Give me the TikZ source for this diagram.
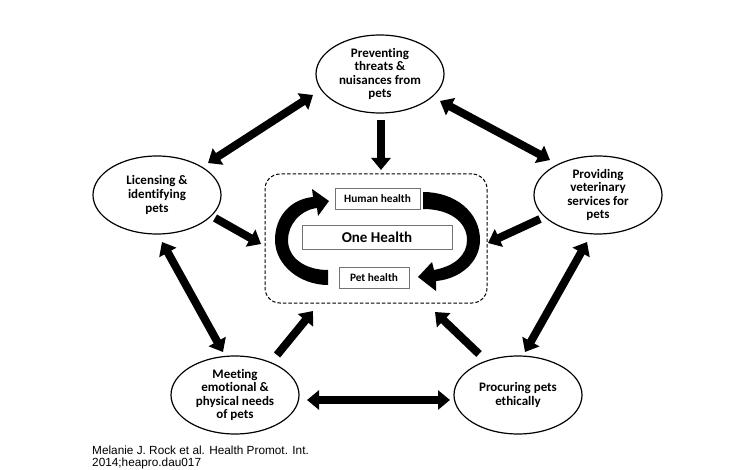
\documentclass[tikz,border=0pt]{standalone}
\usepackage{fontspec}
\setmainfont[Ligatures=NoCommon]{Carlito}
\newfontfamily\capfont{Liberation Sans}
\usetikzlibrary{arrows.meta,shapes.geometric}
\tikzset{
  ell/.style={draw, ellipse, line width=1.2pt, minimum width=128pt, minimum height=78pt, inner sep=0pt, align=center,
    font=\fontsize{13}{13.6}\selectfont\bfseries},
  hbox/.style={draw=black!55, line width=0.8pt, inner sep=0pt, font=\fontsize{11.3}{13}\selectfont\bfseries},
  onearrow/.style={line width=8pt, -{Triangle[length=12pt,width=19pt]}},
  twoarrow/.style={line width=8pt, {Triangle[length=12pt,width=19pt]}-{Triangle[length=12pt,width=19pt]}},
}
\begin{document}
\begin{tikzpicture}[x=1pt,y=-1pt]
\useasboundingbox (0,0) rectangle (754,470);
% ellipses
\node[ell] (top) at (380,74) {Preventing\\threats \&\\nuisances from\\pets};
\node[ell] (lic) at (157,195) {Licensing \&\\identifying\\pets};
\node[ell] (vet) at (598,195) {Providing\\veterinary\\services for\\pets};
\node[ell] (meet) at (235,395) {Meeting\\emotional \&\\physical needs\\of pets};
\node[ell] (proc) at (518,395) {Procuring pets\\ethically};
% central box
\node[draw, dashed, dash pattern=on 3.5pt off 2pt, line width=1pt, rounded corners=15pt,
  minimum width=222pt, minimum height=129pt, inner sep=0pt] (oh) at (376,238.5) {};
\node[hbox, minimum width=85pt, minimum height=21pt] (hh) at (377.5,198.5) {Human health};
\node[hbox, minimum width=150pt, minimum height=24pt, font=\fontsize{15}{16}\selectfont\bfseries] (one) at (377,237) {One Health};
\node[hbox, minimum width=70pt, minimum height=21pt] (ph) at (374,277.5) {Pet health};
% circular arrows
\fill (328,285) .. controls (300,285) and (275,265) .. (275,240)
  .. controls (275,215) and (292,199) .. (313,197)
  -- (312,189) -- (329,201) -- (318,216) -- (317,208)
  .. controls (300,210) and (288,225) .. (288,240)
  .. controls (288,258) and (305,270) .. (328,270) -- cycle;
\fill (423,192) .. controls (455,192) and (480,212) .. (480,240)
  .. controls (480,262) and (460,279) .. (436,281)
  -- (436,291) -- (418,277) -- (432,262) -- (434,270)
  .. controls (455,266) and (467,255) .. (467,240)
  .. controls (467,222) and (450,209) .. (423,209) -- cycle;
% connector end points
\coordinate (tl1) at (313,95);  \coordinate (tl2) at (208,163);
\coordinate (tr1) at (440,101); \coordinate (tr2) at (550,160);
\coordinate (tc1) at (381,120); \coordinate (tc2) at (381,170);
\coordinate (lc1) at (215,218); \coordinate (lc2) at (261,244);
\coordinate (rc1) at (540,219); \coordinate (rc2) at (488,243);
\coordinate (lm1) at (162,242); \coordinate (lm2) at (223,352);
\coordinate (rp1) at (587,242); \coordinate (rp2) at (525,352);
\coordinate (mc1) at (277,355); \coordinate (mc2) at (313,311);
\coordinate (pc1) at (479,354); \coordinate (pc2) at (435,312);
\coordinate (mp1) at (307,400); \coordinate (mp2) at (450,400);
% connectors
\draw[twoarrow] (tl1) -- (tl2);
\draw[twoarrow] (tr1) -- (tr2);
\draw[onearrow] (tc1) -- (tc2);
\draw[onearrow] (lc1) -- (lc2);
\draw[onearrow] (rc1) -- (rc2);
\draw[twoarrow] (lm1) -- (lm2);
\draw[twoarrow] (rp1) -- (rp2);
\draw[onearrow] (mc1) -- (mc2);
\draw[onearrow] (pc1) -- (pc2);
\draw[twoarrow] (mp1) -- (mp2);
% caption
\node[anchor=north west, inner sep=0pt, align=left, font=\capfont\fontsize{11.8}{11.7}\selectfont] (cap) at (92,446)
  {Melanie J. Rock et al. Health Promot. Int.\\2014;heapro.dau017};
\end{tikzpicture}
\end{document}
